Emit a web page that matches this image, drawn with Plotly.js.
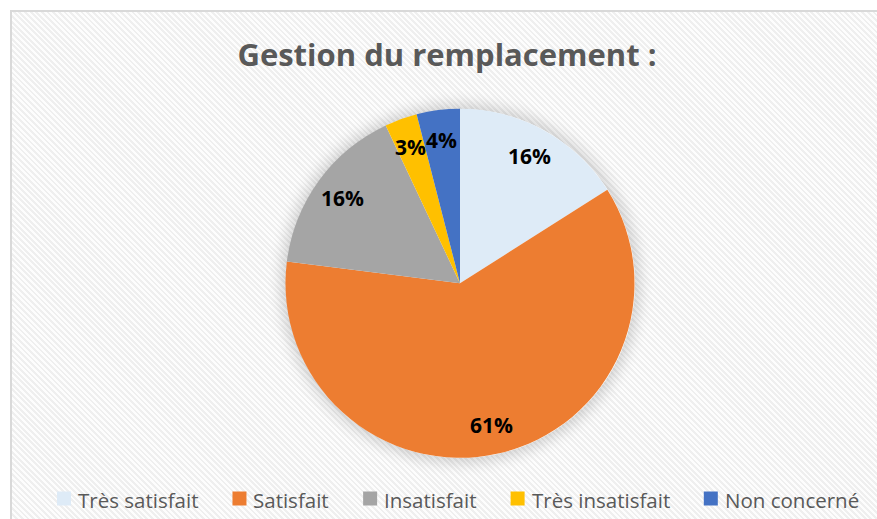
<!DOCTYPE html>
<html>
<head>
<meta charset="utf-8">
<script src="https://cdn.plot.ly/plotly-3.0.1.min.js"></script>
<style>
  html, body { margin: 0; padding: 0; background: #ffffff; }
  #wrap { position: relative; width: 877px; height: 519px; overflow: hidden; background: #ffffff; }
  #bg {
    position: absolute; left: 10px; top: 10px; width: 900px; height: 540px;
    border-left: 2px solid #d9d9d9; border-top: 2px solid #d9d9d9;
    background: repeating-linear-gradient(45deg, #fdfdfd 0px, #fdfdfd 2px, #efefef 2px, #efefef 4px);
  }
  #shadow { position: absolute; border-radius: 50%; background: #ffffff;
    box-shadow: 0 0 14px 5px rgba(0,0,0,0.16); }
  #chart { position: absolute; left: 0; top: 0; width: 877px; height: 519px; }
</style>
</head>
<body>
<div id="wrap">
  <div id="bg"></div>
  <div id="shadow"></div>
  <div id="chart"></div>
</div>
<script>
// ---- data ----
const categories = ['Très satisfait', 'Satisfait', 'Insatisfait', 'Très insatisfait', 'Non concerné'];
const values = [16, 61, 16, 3, 4];
const colors = ['#DEEBF7', '#ED7D31', '#A5A5A5', '#FFC000', '#4472C4'];
const chartTitle = 'Gestion du remplacement :';

// ---- layout constants ----
const W = 877, H = 519;
const cxPx = 460, cyPx = 283.3, R = 174.5;
const labelRadius = 0.83;
const FONT = 'Open Sans';
const legendFontSize = 20.5;
const legendCenterX = 457.5, legendCenterY = 499.5;
const swatch = 14, swatchGap = 6, itemGap = 35;

const domain = {
  x: [(cxPx - R) / W, (cxPx + R) / W],
  y: [(H - cyPx - R) / H, (H - cyPx + R) / H]
};

const sh = document.getElementById('shadow');
sh.style.left = (cxPx - R) + 'px';
sh.style.top = (cyPx - R) + 'px';
sh.style.width = (2 * R) + 'px';
sh.style.height = (2 * R) + 'px';

// label annotations along each slice's bisector
const total = values.reduce((a, b) => a + b, 0);
let cum = 0;
const annotations = values.map((v, i) => {
  const mid = (cum + v / 2) / total * 2 * Math.PI;
  cum += v;
  const px = cxPx + labelRadius * R * Math.sin(mid);
  const py = cyPx - labelRadius * R * Math.cos(mid);
  return {
    xref: 'paper', yref: 'paper', x: px / W, y: 1 - py / H,
    xanchor: 'center', yanchor: 'middle', showarrow: false,
    text: '<b>' + Math.round(v / total * 100) + '%</b>',
    font: { family: FONT + ', sans-serif', size: 21, color: '#000000' }
  };
});

// custom legend (Excel-like spacing)
const ctx = document.createElement('canvas').getContext('2d');
ctx.font = legendFontSize + 'px "' + FONT + '"';
const widths = categories.map(c => ctx.measureText(c).width);
const legendTotal = widths.reduce((a, w) => a + swatch + swatchGap + w, 0) + itemGap * (categories.length - 1);
let lx = legendCenterX - legendTotal / 2;
const shapes = [];
categories.forEach((c, i) => {
  shapes.push({
    type: 'rect', xref: 'paper', yref: 'paper',
    x0: lx / W, x1: (lx + swatch) / W,
    y0: 1 - (legendCenterY - 1 + swatch / 2) / H, y1: 1 - (legendCenterY - 1 - swatch / 2) / H,
    fillcolor: colors[i], line: { width: 0 }
  });
  annotations.push({
    xref: 'paper', yref: 'paper',
    x: (lx + swatch + swatchGap - 1) / W, y: 1 - legendCenterY / H,
    xanchor: 'left', yanchor: 'middle', showarrow: false,
    text: c,
    font: { family: FONT + ', sans-serif', size: legendFontSize, color: '#595959' }
  });
  lx += swatch + swatchGap + widths[i] + itemGap;
});

const trace = {
  type: 'pie',
  labels: categories,
  values: values,
  sort: false,
  direction: 'clockwise',
  rotation: 0,
  marker: { colors: colors, line: { width: 0 } },
  textinfo: 'none',
  hoverinfo: 'label+percent',
  domain: domain
};

const layout = {
  width: W, height: H,
  margin: { l: 0, r: 0, t: 0, b: 0 },
  paper_bgcolor: 'rgba(0,0,0,0)',
  plot_bgcolor: 'rgba(0,0,0,0)',
  title: {
    text: '<b>' + chartTitle + '</b>',
    x: 447 / W, xanchor: 'center',
    y: 1 - 55 / H, yanchor: 'middle', yref: 'container',
    font: { family: FONT + ', sans-serif', size: 31, color: '#595959' }
  },
  showlegend: false,
  annotations: annotations,
  shapes: shapes
};

Plotly.newPlot('chart', [trace], layout, { displayModeBar: false, staticPlot: true });
</script>
</body>
</html>
